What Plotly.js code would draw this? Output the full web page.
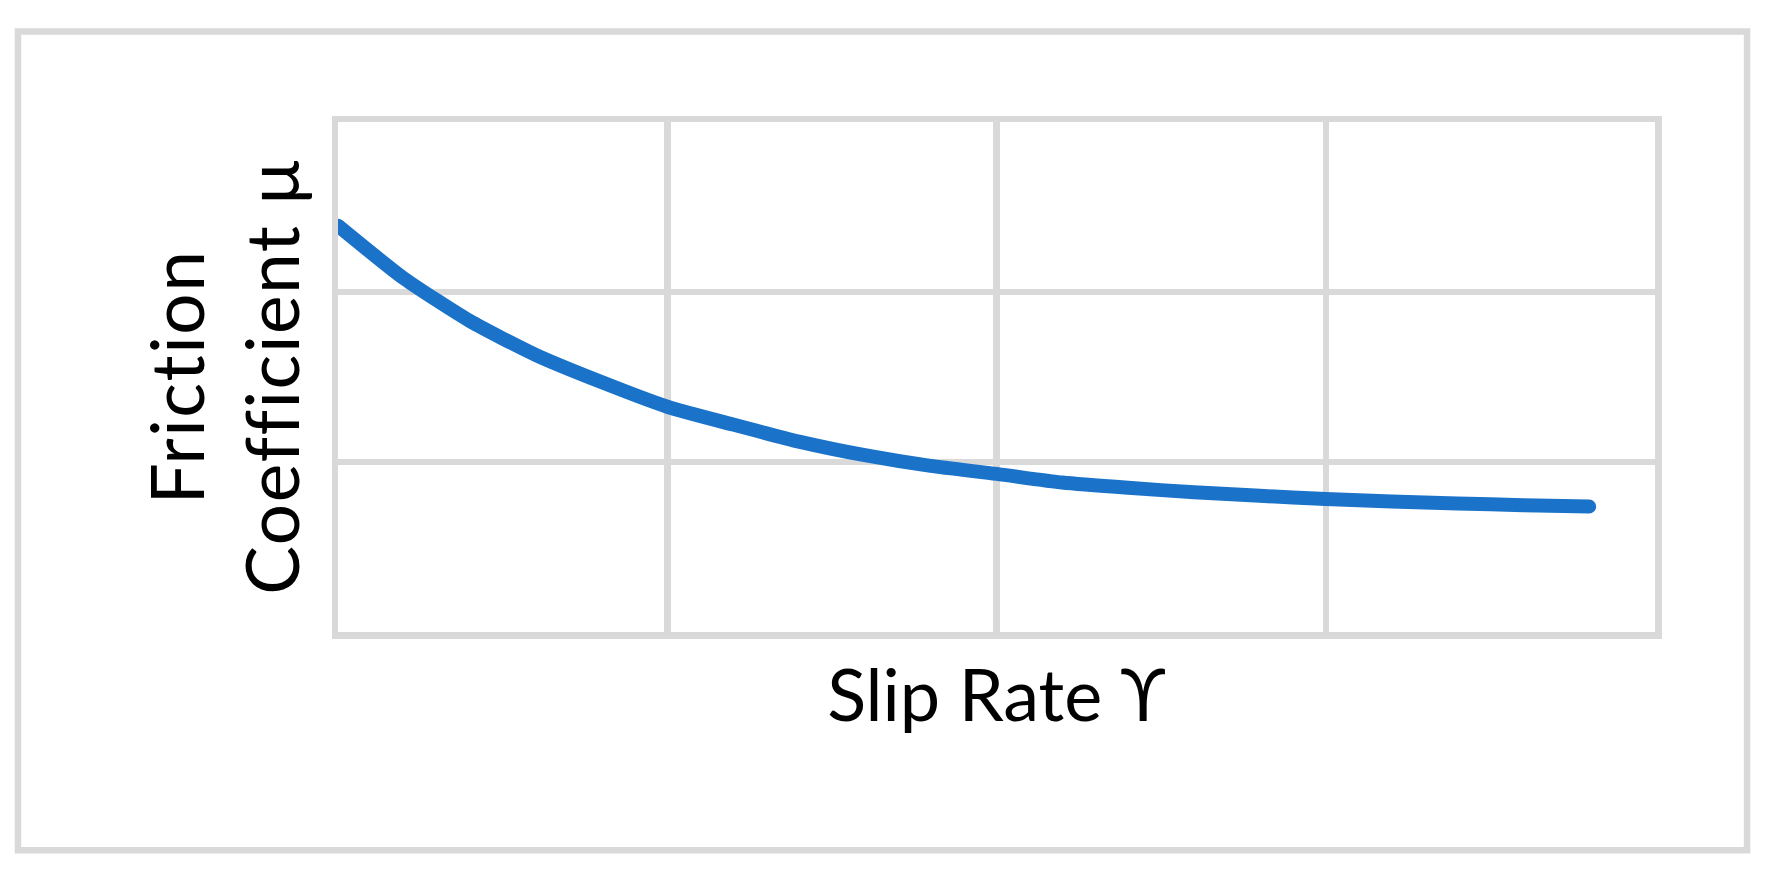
<!DOCTYPE html>
<html>
<head>
<meta charset="utf-8">
<script src="https://cdn.plot.ly/plotly-3.0.1.min.js"></script>
<style>
  html, body { margin: 0; padding: 0; background: #ffffff; }
  #chart { width: 1774px; height: 876px; }
  .scatterlayer path.js-line { stroke-linecap: round; stroke-linejoin: round; }
  #chart text { font-variant-ligatures: none; font-feature-settings: "liga" 0, "clig" 0; }
  #chart .ytitle { letter-spacing: 1.5px; }
</style>
</head>
<body>
<div id="chart"></div>
<script>
// Slip rate (x) and friction coefficient (y)
const slipRate = [0, 0.2, 0.4, 0.6, 0.8, 1.0, 1.2, 1.4, 1.6, 1.8, 2.0, 2.2, 2.4, 2.6, 2.8, 3.0, 3.2, 3.4, 3.6, 3.8];
const frictionCoefficient = [2.39, 2.08, 1.83, 1.63, 1.47, 1.325, 1.22, 1.12, 1.04, 0.977, 0.93, 0.879, 0.848, 0.822, 0.801, 0.783, 0.767, 0.756, 0.746, 0.738];

const xTitle = 'Slip Rate \u03D2';
const yTitle = 'Friction<br>Coefficient \u03BC';

const gridColor = '#d9d9d9';
const fontFamily = "Lato, 'Noto Sans', 'DejaVu Sans', sans-serif";

const trace = {
  x: slipRate,
  y: frictionCoefficient,
  type: 'scatter',
  mode: 'lines',
  line: { color: '#1a73c9', width: 14, shape: 'spline', smoothing: 0.6 },
  hoverinfo: 'x+y',
  showlegend: false
};

const layout = {
  width: 1774,
  height: 876,
  margin: { l: 338, r: 119, t: 122, b: 244, pad: 0 },
  paper_bgcolor: '#ffffff',
  plot_bgcolor: '#ffffff',
  font: { family: fontFamily, color: '#000000' },
  xaxis: {
    range: [0, 4],
    dtick: 1,
    tick0: 0,
    showticklabels: false,
    ticks: '',
    showgrid: true,
    gridcolor: gridColor,
    gridwidth: 6.5,
    zeroline: false,
    showline: true,
    mirror: true,
    linecolor: gridColor,
    linewidth: 6.5,
    fixedrange: true,
    title: { text: xTitle, font: { family: fontFamily, size: 72, color: '#000000' }, standoff: 35 }
  },
  yaxis: {
    range: [0, 3],
    dtick: 1,
    tick0: 0,
    showticklabels: false,
    ticks: '',
    showgrid: true,
    gridcolor: gridColor,
    gridwidth: 6.5,
    zeroline: false,
    showline: true,
    mirror: true,
    linecolor: gridColor,
    linewidth: 6.5,
    fixedrange: true,
    title: { text: yTitle, font: { family: fontFamily, size: 73, color: '#000000' }, standoff: 10 }
  },
  shapes: [{
    type: 'rect',
    xref: 'paper', yref: 'paper',
    x0: -0.2430, x1: 1.0699,
    y0: -0.4279, y1: 1.1776,
    line: { color: gridColor, width: 6.5 },
    fillcolor: 'rgba(0,0,0,0)',
    layer: 'below'
  }]
};

Plotly.newPlot('chart', [trace], layout, { displayModeBar: false, staticPlot: true });
</script>
</body>
</html>
